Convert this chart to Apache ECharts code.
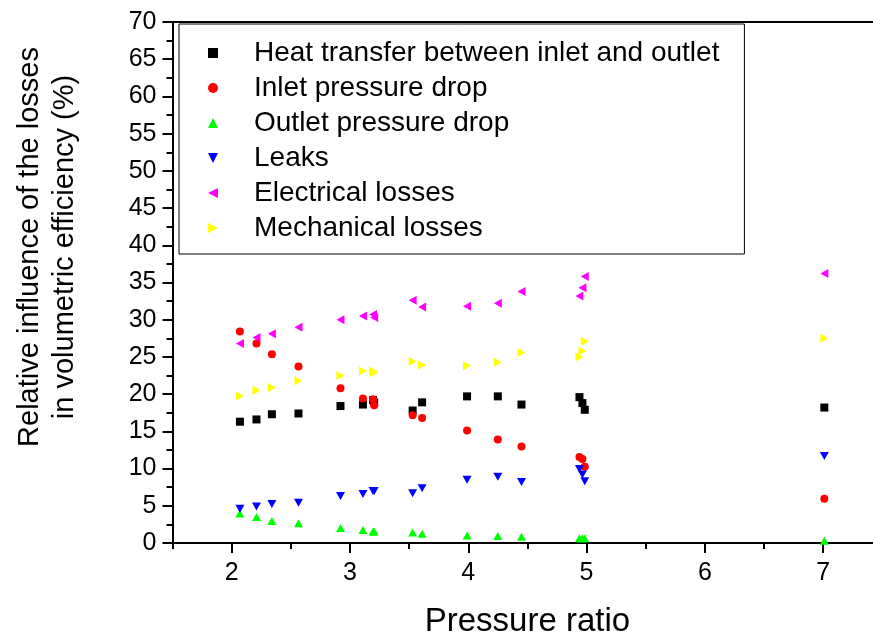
<!DOCTYPE html>
<html><head><meta charset="utf-8">
<script src="https://cdn.jsdelivr.net/npm/echarts@6/dist/echarts.min.js"></script>
<style>html,body{margin:0;padding:0;background:#fff}#c{width:873px;height:638px}</style>
</head><body><div id="c"></div>
<script>
const pressureRatio = [2.07, 2.21, 2.34, 2.565, 2.92, 3.11, 3.195, 3.205, 3.53, 3.61, 3.99, 4.25, 4.45, 4.94, 4.965, 4.985, 7.01];
const heatTransfer = [16.3, 16.6, 17.3, 17.4, 18.4, 18.6, 19.2, 18.9, 17.8, 18.9, 19.7, 19.7, 18.6, 19.6, 18.8, 17.9, 18.2];
const inletDrop = [28.4, 26.8, 25.35, 23.7, 20.8, 19.4, 19.3, 18.5, 17.15, 16.8, 15.1, 13.9, 12.95, 11.55, 11.3, 10.25, 5.96];
const outletDrop = [3.95, 3.5, 2.95, 2.65, 2.0, 1.75, 1.55, 1.55, 1.4, 1.25, 1.0, 0.95, 0.85, 0.65, 0.65, 0.65, 0.3];
const leaks = [4.6, 4.9, 5.25, 5.4, 6.3, 6.6, 7.0, 7.0, 6.7, 7.35, 8.5, 8.9, 8.2, 9.95, 9.2, 8.3, 11.7];
const electrical = [26.8, 27.6, 28.1, 29.0, 30.0, 30.5, 30.7, 30.3, 32.6, 31.7, 31.8, 32.2, 33.8, 33.2, 34.3, 35.8, 36.2];
const mechanical = [19.75, 20.5, 20.9, 21.8, 22.5, 23.1, 23.1, 22.9, 24.4, 23.9, 23.8, 24.3, 25.6, 25.0, 25.8, 27.1, 27.5];
const seriesNames = ['Heat transfer between inlet and outlet', 'Inlet pressure drop', 'Outlet pressure drop', 'Leaks', 'Electrical losses', 'Mechanical losses'];
const xTickLabels = [2, 3, 4, 5, 6, 7];
const xMinorTicks = [1.5, 2.5, 3.5, 4.5, 5.5, 6.5, 7.5];
const xTitle = 'Pressure ratio';
const yTitle = 'Relative influence of the losses\nin volumetric efficiency (%)';

const FONT = 'Arial, "Liberation Sans", sans-serif';
const pair = (ys) => pressureRatio.map((x, i) => [x, ys[i]]);
const seriesDefs = [
  {data: heatTransfer, color: '#000000', symbol: 'rect', size: [8, 8]},
  {data: inletDrop, color: '#ff0000', symbol: 'circle', size: [8, 8]},
  {data: outletDrop, color: '#00ff00', symbol: 'triangle', size: [9, 8]},
  {data: leaks, color: '#0000ff', symbol: 'path://M0,0L2,0L1,2Z', size: [9, 8]},
  {data: electrical, color: '#ff00ff', symbol: 'path://M0,1L2,0L2,2Z', size: [8, 9]},
  {data: mechanical, color: '#ffff00', symbol: 'path://M0,0L2,1L0,2Z', size: [8, 9]}
];
const axisLine = {show: true, lineStyle: {color: '#000', width: 2}};
const chart = echarts.init(document.getElementById('c'), null, {renderer: 'canvas'});
chart.setOption({
  animation: false,
  backgroundColor: '#fff',
  grid: {left: 172.5, width: 709.8, top: 22, height: 521, containLabel: false, outerBoundsMode: 'none'},
  xAxis: [
    {type: 'value', min: 1.5, max: 7.5, position: 'bottom', axisLine: axisLine,
     axisTick: {show: true, customValues: xTickLabels, length: 10, lineStyle: {color: '#000', width: 2}},
     axisLabel: {customValues: xTickLabels, fontSize: 25, color: '#000', margin: 18, fontFamily: FONT},
     splitLine: {show: false},
     name: xTitle, nameLocation: 'middle', nameGap: 62,
     nameTextStyle: {fontSize: 33, color: '#000', fontFamily: FONT}},
    {type: 'value', min: 1.5, max: 7.5, position: 'bottom', axisLine: {show: false},
     axisTick: {show: true, customValues: xMinorTicks, length: 6, lineStyle: {color: '#000', width: 2}},
     axisLabel: {show: false, customValues: xMinorTicks}, splitLine: {show: false}},
    {type: 'value', min: 1.5, max: 7.5, position: 'top', axisLine: axisLine,
     axisTick: {show: false}, axisLabel: {show: false}, splitLine: {show: false}}
  ],
  yAxis: {type: 'value', min: 0, max: 70, interval: 5, axisLine: axisLine,
    axisTick: {show: true, length: 10, lineStyle: {color: '#000', width: 2}},
    minorTick: {show: true, splitNumber: 2, length: 6, lineStyle: {color: '#000', width: 2}},
    axisLabel: {fontSize: 25, color: '#000', margin: 16, fontFamily: FONT},
    splitLine: {show: false}},
  legend: {orient: 'vertical', left: 179, top: 24, padding: [14, 25, 11, 29], itemGap: 5,
    itemWidth: 10, itemHeight: 10, borderColor: '#000', borderWidth: 1, backgroundColor: '#fff',
    textStyle: {fontSize: 28, lineHeight: 30, color: '#000', fontFamily: FONT, padding: [0, 0, 0, 31]},
    data: seriesNames},
  graphic: [{type: 'text', x: 47, y: 247, rotation: Math.PI / 2,
    style: {text: yTitle, fontSize: 29, lineHeight: 35, fill: '#000', align: 'center', verticalAlign: 'middle', fontFamily: FONT}}],
  series: seriesDefs.map((d, i) => ({
    type: 'scatter', name: seriesNames[i], xAxisIndex: 0, data: pair(d.data),
    symbol: d.symbol, symbolSize: d.size, itemStyle: {color: d.color, opacity: 1}, z: 2 + i
  }))
});
</script></body></html>
